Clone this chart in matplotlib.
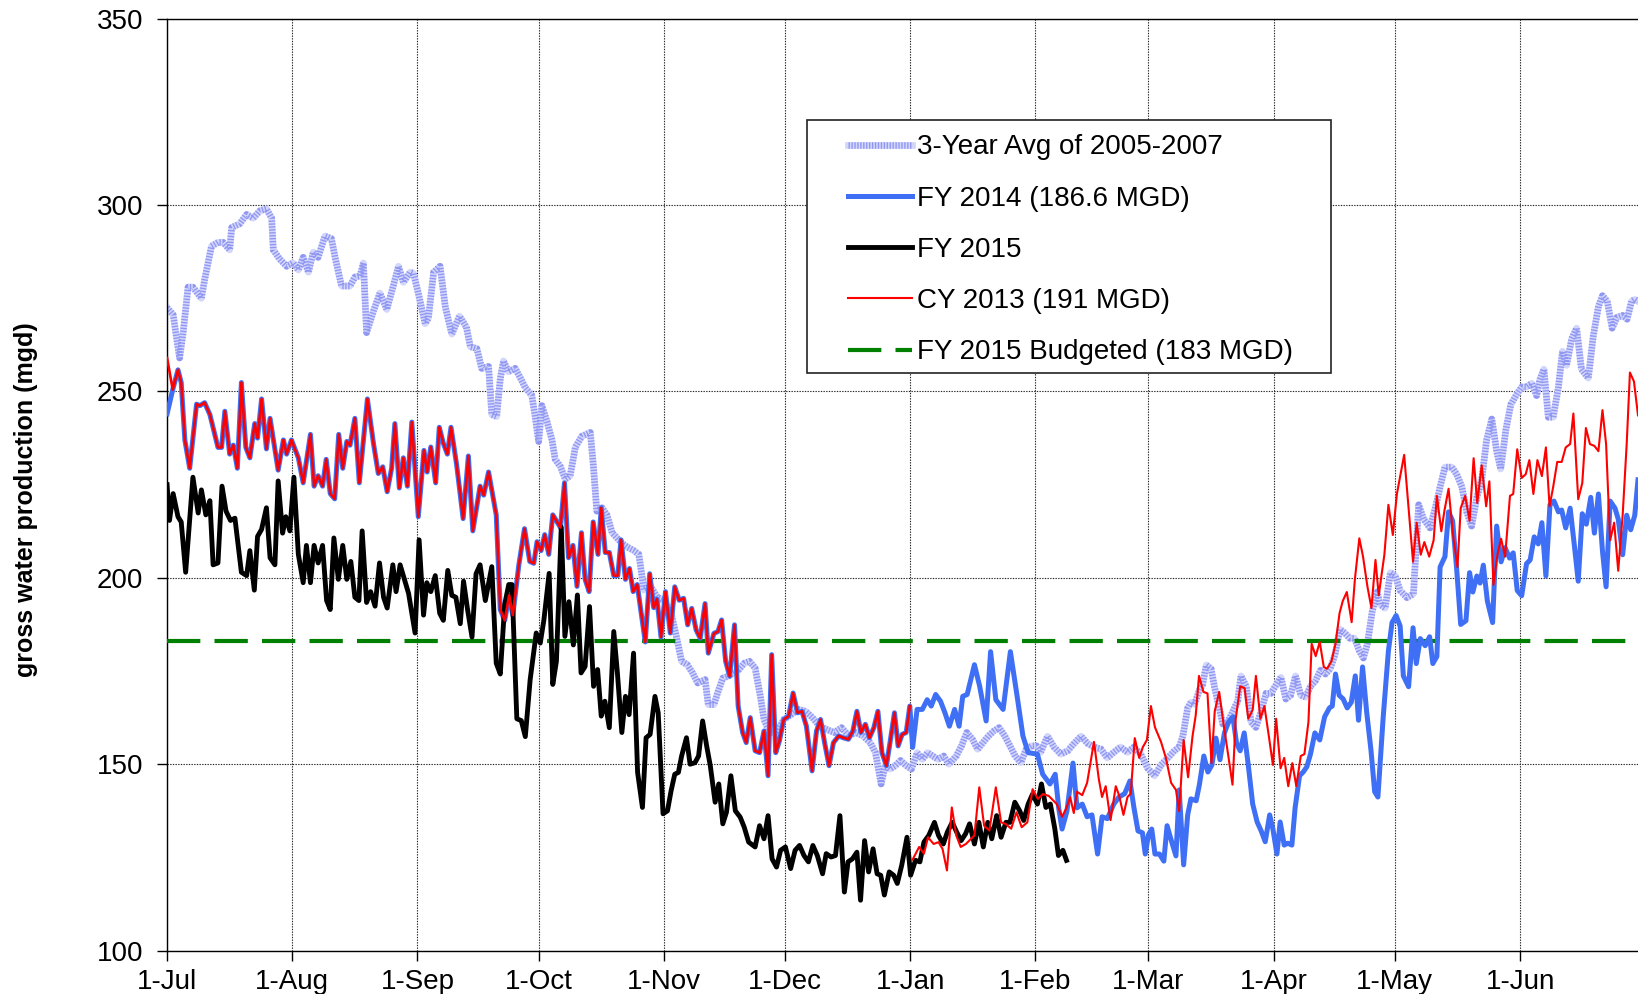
import matplotlib
matplotlib.use("Agg")
import matplotlib.pyplot as plt
from matplotlib.patches import Rectangle
from matplotlib.lines import Line2D

plt.rcParams['font.family'] = ['Liberation Sans', 'DejaVu Sans']

# ---- data: day offset from 1-Jul, daily production (mgd) ----
month_days = [0, 31, 62, 92, 123, 153, 184, 215, 243, 274, 304, 335]
month_labels = ['1-Jul', '1-Aug', '1-Sep', '1-Oct', '1-Nov', '1-Dec',
                '1-Jan', '1-Feb', '1-Mar', '1-Apr', '1-May', '1-Jun']

avg_days = [0, 1.5, 3.1, 4, 5.2, 6.4, 8.5, 9.3, 11, 12.6, 13.9, 15.5, 16, 18, 19.7, 21.3, 23, 24.6, 25.9, 26.3,
            27.9, 29.6, 31.2, 32.5, 33.7, 35, 36.2, 37.4, 39.1, 40.7, 41.6, 43.2, 45.3, 46.5, 47.8, 48.6, 49.4,
            51.1, 52.7, 54.4, 56, 57.3, 58.5, 60.2, 61, 62.2, 63.9, 64.7, 66, 67.6, 68.9, 70.5, 72.4, 74.1, 75.1,
            76.7, 77.9, 79.6, 80.4, 81.6, 82.5, 83.3, 84.5, 86.2, 87.4, 88.7, 90.3, 91.2, 92, 92.8, 94.1, 95.3,
            96.1, 97.4, 98.6, 99.8, 101.1, 102.7, 104.8, 105.6, 106.4, 107.7, 108.9, 110.2, 111.4, 112.7, 113.9,
            115.6, 116.8, 118.1, 119.7, 121.4, 123, 124.8, 126.1, 127.4, 128.8, 130.1, 131.4, 133.2, 134, 135.4,
            136.3, 137.6, 138.9, 140.3, 141.6, 142.9, 144.2, 145.6, 146.9, 147.8, 149.2, 150.9, 152.7, 154.5,
            156.3, 158.1, 159.8, 161.6, 163.4, 165.2, 167, 168.8, 170.5, 172.3, 174.1, 175.4, 176.8, 177.8, 179,
            180.3, 181.6, 183, 184.3, 185.7, 187, 188.3, 189.6, 190.9, 192.3, 193.6, 195.4, 196.7, 198, 199.4,
            200.7, 202, 203.4, 204.7, 206, 207.4, 208.7, 210, 211.4, 212.7, 214, 215.3, 216.3, 218, 219.6, 221.3,
            223, 224.6, 226.3, 227.9, 229.5, 231.2, 232.8, 234.4, 236.1, 237.8, 239.4, 241.1, 242.8, 244.5, 246.1,
            247.8, 249.4, 250.6, 251.5, 252.7, 253.5, 254.4, 255.6, 256.4, 257.3, 258.5, 259.3, 260.2, 261.4,
            262.6, 263.9, 265.1, 265.9, 267.2, 268.4, 269.6, 270.9, 272.1, 273.3, 274.6, 275.8, 277, 278.2, 279.4,
            280.7, 281.9, 283.1, 284.3, 285.6, 286.8, 288, 289.2, 290.4, 291.6, 292.8, 294, 295.2, 296.2, 297.2,
            298.4, 299.6, 300.4, 301.6, 302.9, 304.1, 305.3, 307, 308.6, 309.9, 311.1, 312.7, 314, 315.2, 316.4,
            318.1, 319.3, 320.6, 321.8, 323, 324.3, 325.5, 326.7, 328, 329.2, 330.2, 331.5, 332.7, 334.2, 335.4,
            336.6, 337.9, 339.1, 339.9, 340.9, 342, 343.2, 344.5, 345.5, 346.5, 347.8, 349, 350.2, 351.9, 353.1,
            354.4, 355.4, 356.6, 357.8, 359, 360.4, 361.5, 362.6, 363.4, 364.2]
avg_vals = [272.5, 270.6, 259, 266, 278, 278, 275, 280, 289, 290, 290, 288, 294, 295, 297.5, 296.5, 298.5, 299, 296.5, 288,
            285.5, 283.6, 284.5, 282.6, 286, 282, 287.4, 286, 291.7, 291, 286, 278.3, 278.3, 280.7, 281, 284.5, 265.8,
            271.6, 276.4, 272, 278.3, 283.6, 279.3, 282, 281.7, 276.4, 268.2, 269.7, 282, 283.6, 272.6, 265.4, 270.2, 267.3, 262,
            261.5, 256.2, 256.7, 243.8, 243.3, 253.4, 258.2, 255.3, 256.2, 253.8, 251, 249, 242.8, 236.6, 246.2, 241.8, 237,
            231.8, 229.8, 226.5, 227.4, 235.1, 238, 239, 229.4, 217.9, 218.8, 216.9, 212.1, 210.7, 209.2, 208.3,
            207.3, 206.3, 196.7, 197.7, 194.8, 193.9, 190.5, 184.3, 177.6, 176.7, 174.5, 171.8, 172.7, 166, 166,
            169.1, 173.1, 173.6, 174.5, 175.4, 177.1, 177.6, 175.8, 168.2, 162, 158.5, 158.5, 162, 163.3,
            164.7, 164.2, 162.5, 160.2, 159.3, 158.5, 159.8, 157.6, 158.5, 157.6, 155.8, 153.1, 144.7, 149.6, 148.7,
            149.6, 151, 149.6, 148.7, 153.1, 151.3, 153.1, 152.2, 151.3, 152.2, 150, 152.2, 154.9, 158.5, 156.7,
            154, 155.8, 157.6, 158.9, 159.8, 157.6, 154.9, 152.2, 150.4, 154, 154.9, 154.9, 153.2, 157.5, 154.6, 152.7,
            153.6, 155.6, 157.5, 155.6, 154.6, 154.1, 151.7, 153.2, 154.6, 153.2, 154.6, 152.7, 148.9, 146.9, 149.8,
            151.7, 153.6, 154.6, 157.5, 165.1, 166.6, 166.1, 169.9, 171.3, 176.6, 175.6, 170.9, 166.6, 160.8,
            161.3, 164.2, 167, 173.7, 170.9, 161.3, 159.9, 164.2, 169, 169, 171.3, 173.3, 167.5, 168.5, 173.7,
            168.5, 168, 170.9, 172.3, 175.2, 174.2, 175.6, 179.5, 186.2, 185.2, 183.8, 183.8, 180.4, 178.5, 182.3,
            191, 196.2, 192.8, 191.9, 201.4, 200.5, 196.6, 194.7, 195.7, 219.6, 215.8, 213.4, 218.7, 224.4, 229.7,
            229.7, 227.8, 224.4, 217.7, 213.9, 221.6, 226.3, 236.9, 242.6, 234, 229.2, 239.8, 246.5, 249.3, 251.2,
            251.2, 252.2, 248.9, 253.2, 256, 243.1, 243.1, 251.2, 260.8, 257, 264.2, 267, 256, 253.6, 264.7,
            272.8, 275.7, 274.2, 267, 269.9, 270.4, 269.4, 274.2, 274.7, 274.2]

# CY 2013, Jul-Dec part (identical to FY 2014 Jul-Dec)
cy13_h2_days = [0, 1.4, 2.7, 3.5, 4.4, 5.6, 7.3, 8.1, 9.3, 10.6, 12.6, 13.5, 14.3, 15.5, 16.4, 17.4, 18.4, 19.5, 20.5,
                21.7, 22.4, 23.4, 24.6, 25.5, 27.5, 28.8, 29.6, 30.8, 32.5, 33.7, 35.5, 36.4, 37.4, 38.5, 39.4, 40.4,
                41.5, 42.5, 43.5, 44.5, 45.3, 46.5, 47.6, 49.6, 51.1, 52.3, 53.4, 54.5, 55.6, 56.4, 57.5, 58.5, 59.5,
                60.6, 62.2, 63.6, 64.4, 65.3, 66.5, 67.4, 68.4, 69.4, 70.3, 71.7, 73.3, 74.6, 75.7, 77.5, 78.4, 79.6,
                81.5, 82.5, 83.6, 84.7, 85.6, 87.1, 88.5, 89.8, 90.8, 91.6, 92.6, 93.5, 94.5, 95.5, 97.4, 98.4, 99.4,
                100.5, 101.5, 102.6, 103.5, 104.5, 105.5, 106.7, 107.5, 108.5, 109.5, 110.6, 111.6, 112.4, 113.5,
                114.5, 115.4, 116.4, 118.4, 119.5, 120.5, 121.3, 122.3, 123.4, 124.6, 125.7, 126.8, 127.9, 128.9,
                129.9, 131, 132, 133.2, 134, 135.4, 136.4, 137.3, 138.3, 139.3, 140.5, 141.4, 142.5, 143.4, 144.4,
                145.6, 146.7, 147.8, 148.8, 149.7, 150.7, 151.6, 152.7, 153.9, 155, 156.1, 157.2, 158.3, 159.7,
                160.8, 161.8, 162.8, 163.9, 165, 166.3, 167.4, 168.7, 169.8, 170.8, 171.8, 172.9, 173.9, 175, 176,
                177, 178.1, 179, 180.1, 181, 182, 183, 183.9]
cy13_h2_vals = [259, 250.5, 255.8, 252.4, 237, 229.4, 246.6, 246.2, 247, 243.8, 235, 235, 244.7, 233.2, 235.6, 229.4, 252.4,
                235, 232.2, 241.4, 237.5, 248, 234.6, 242.8, 228.9, 237, 233.2, 237, 232.2, 225.5, 238.5, 224.6, 227.4,
                224.6, 231.8, 222.6, 221.2, 238.5, 229.4, 236.6, 235.6, 242.8, 225.5, 248, 236.1, 228, 229.8, 223.1,
                229.4, 241.4, 224.1, 232.2, 224.6, 241.8, 216.4, 234.2, 228.4, 235.1, 225.5, 240.4, 236.1, 233.2, 240.4,
                230.3, 215.9, 232.7, 212.6, 224.6, 222.2, 228.4, 216.9, 191.5, 188.6, 195.3, 190, 203.5, 213.2, 204.4,
                203.9, 209.7, 207.3, 211.6, 206.3, 216.9, 213.5, 225.5, 205.4, 208.7, 197.7, 212.1, 199.6, 196.3, 215,
                206.3, 218.8, 206.8, 206.8, 200.6, 200.6, 210.2, 199.6, 202.5, 196.3, 198.2, 182.8, 201.1, 192, 194.3,
                184.1, 196.3, 185.2, 197.6, 194, 194.5, 187.4, 191.8, 186, 183.8, 193.1, 179.8, 185.1, 185.6, 188.7,
                177.6, 173.6, 187.4, 165.6, 158.5, 155.8, 162.5, 153.6, 153.1, 158.9, 146.9, 179.4, 153.1, 156.2, 162,
                162.9, 169.1, 163.8, 164.2, 160.2, 148.2, 158.9, 162, 155.8, 149.6, 155.8, 157.6, 157.1, 156.7, 158.9,
                164.2, 158.5, 160.7, 157.1, 159.8, 164.2, 153.1, 149.6, 155.8, 163.8, 154.9, 158, 158.5, 165.6]

# CY 2013, Jan-Jun part (plotted at Jan-Jun positions)
cy13_h1_days = [184.6, 186.2, 187.4, 188.4, 189.8, 191, 192, 193.1, 194.3, 195.4, 196.5, 197.8, 199.9, 201.1, 202.3,
                203.6, 205.2, 206.5, 207.6, 209, 210.3, 211.6, 213, 214.3, 215.6, 216.9, 218.3, 220.3, 221.6, 222.7,
                223.6, 224.5, 225.3, 226.6, 227.8, 229.5, 230.7, 231.5, 232.4, 233.6, 234.9, 235.7, 236.8, 237.8,
                238.6, 239.6, 240.7, 241.6, 242.6, 243.6, 244.6, 246.1, 247.3, 248.6, 249.8, 250.6, 251.7, 252.8,
                253.9, 254.7, 255.5, 256.6, 257.6, 258.6, 259.4, 260.5, 261.7, 262.7, 263.8, 264.6, 265.7, 266.8,
                267.7, 268.8, 269.6, 270.7, 271.7, 272.8, 273.8, 274.6, 275.7, 276.6, 277.6, 278.6, 279.6, 280.7,
                281.6, 282.6, 283.4, 284.4, 285.4, 286.4, 287.2, 288.3, 289.3, 290.3, 291.1, 292.1, 293.3, 294.1,
                295.2, 296.1, 297.2, 298.2, 299.2, 300, 301.4, 302.4, 303.5, 304.5, 306.3, 307.4, 308.5, 309.4,
                310.4, 311.3, 312.5, 313.6, 314.4, 315.5, 316.3, 317.3, 318.4, 319.5, 320.3, 321.4, 322.5, 323.5,
                324.4, 325.5, 326.6, 327.4, 328.4, 329.4, 330.3, 331.3, 332.5, 333.3, 334.3, 335.4, 336.4, 337.3,
                338.3, 339.3, 340.4, 341.4, 342.3, 343.2, 344.2, 345.3, 346.3, 347.4, 348.2, 349.4, 350.4, 351.3,
                352.3, 353.4, 354.4, 355.4, 356.3, 357.3, 358.3, 359.3, 360.4, 361.4, 362.2, 363.2, 364.2]
cy13_h1_vals = [124.4, 127.8, 126, 130.4, 128.6, 129.1, 127.3, 121.5, 138.4, 130.9, 127.8, 128.6, 130.9, 143.8, 133.5,
                132.2, 143.8, 134.4, 134, 132.7, 137.1, 133.1, 134.4, 143.3, 140.7, 142, 141.5, 139.3, 135.9, 138.3,
                141.2, 136.9, 142.6, 141.7, 145, 156, 146, 141.2, 144.1, 135, 144.1, 141.7, 136.4, 141.2,
                142.1, 157, 151.7, 154.6, 156.5, 165.6, 159.9, 156, 151.7, 145, 143.1, 137.4, 156.5, 146.5,
                157.5, 163.2, 173.7, 169.4, 169, 150.3, 164.2, 169.4, 159.9, 152.7, 144.5, 162.2, 170.9, 170.4,
                162.2, 164.6, 173.7, 162.2, 165.6, 157.5, 149.8, 162.2, 148.9, 151.7, 144.1, 150.3, 144.1, 152.2,
                152.7, 161.3, 182.3, 179, 182.8, 176.1, 175.6, 177.6, 182.3, 190.5, 193.8, 196.2, 188.1, 199.6,
                210.6, 205.8, 197.7, 191.9, 204.8, 195.3, 206.2, 219.6, 211.5, 222.5, 233, 218.7, 204.3, 214.8,
                206.2, 209.6, 205.7, 210.1, 222, 212.5, 218.2, 223.9, 211.5, 202.9, 218.7, 222, 215.3, 232.1,
                220.1, 230.2, 219.2, 225.9, 198.1, 206.2, 210.5, 205.7, 222, 222.5, 234.5, 226.8, 227.8, 231.6,
                222.5, 231.6, 227.3, 235, 219.2, 224.4, 231.1, 231.1, 235, 235.9, 244.1, 221.1, 225.4, 240.2,
                235.9, 235.4, 234, 245, 235.9, 210.1, 214.8, 201.9, 216.8, 235.9, 255.1, 252.7, 243.6]

# FY 2014: first day, then Jul-Dec = CY 2013 Jul-Dec, then Jan-Jun 2014
fy14_first_val = 244
fy14_h1_days = [184.6, 185.7, 187, 188.2, 189.2, 190.3, 191.5, 192.6, 193.7, 195, 196.1, 197, 198.1, 199.9, 201.2,
                202.8, 203.9, 205.2, 207, 208.8, 210.6, 211.9, 213.2, 215.5, 216.8, 218.6, 219.9, 220.8, 221.6,
                222.8, 224.3, 225.3, 226.6, 227.8, 229, 230.4, 231.5, 232.8, 234.4, 235.7, 237.1, 238.4, 239.4,
                240.4, 241.5, 242.2, 243, 243.8, 244.6, 245.7, 246.8, 247.6, 248.6, 249.8, 250.6, 251.7, 252.7,
                253.5, 254.8, 255.6, 256.7, 257.7, 258.7, 259.7, 260.7, 261.8, 262.8, 263.9, 264.8, 265.7, 266.7,
                267.7, 268.8, 269.9, 270.9, 271.9, 273, 273.8, 274.8, 275.6, 276.6, 277.5, 278.5, 279.3, 280.4,
                281.3, 282.2, 283.1, 284.2, 285.4, 286.6, 287.8, 288.5, 289.3, 290.2, 291.2, 292.2, 293.2, 294.2,
                295, 296, 297, 298.1, 299, 299.8, 301.1, 302.4, 303.3, 304.3, 305.3, 306.1, 307.4, 308.5, 309.3,
                310.3, 311.5, 312.6, 313.4, 314.4, 315.2, 316.4, 317.3, 318.3, 319.3, 320.3, 321.6, 322.5, 323.3,
                324.3, 325.1, 325.9, 326.9, 328.2, 329.2, 330.3, 331.3, 332.4, 333.3, 334.3, 335.4, 336.6, 337.5,
                338.5, 339.5, 340.4, 341.4, 342.4, 343.4, 344.5, 345.3, 346.3, 347.4, 348.4, 349.4, 350.4, 351.4,
                352.5, 353.4, 354.4, 355.4, 356.3, 357.3, 358.5, 359.3, 360.4, 361.4, 362.4, 363.4, 364.2]
fy14_h1_vals = [154.5, 164.7, 164.7, 167.3, 165.6, 168.7, 166.9, 163.8, 160.2, 164.7, 160.2, 168.2, 168.7, 176.7, 170.9,
                161.6, 180.2, 167.3, 164.7, 180.2, 167.3, 157.6, 153.1, 152.7, 147.3, 144.7, 147.3, 138, 132.6,
                137.4, 150.3, 138.3, 139.3, 135.9, 136.4, 125.9, 135.9, 135.4, 139.3, 141.2, 142.1, 145.5, 138.3,
                132.1, 131.6, 125.9, 131.1, 132.6, 125.9, 125.9, 124, 133.5, 129.7, 125.4, 143.1, 123, 136.4,
                140.7, 140.2, 144.5, 152.2, 147.9, 149.8, 157, 151.2, 158.4, 161.3, 162.7, 155.6, 153.6, 158.4,
                149.8, 139.3, 134.5, 132.1, 129.2, 136.4, 132.6, 125.9, 134.5, 128.3, 128.8, 128.3, 138.3, 146.9,
                147.9, 149.3, 152.7, 158.4, 156.5, 162.7, 165.1, 165.6, 174.2, 168.5, 167.5, 165.1, 166.6, 173.7,
                161.8, 176.1, 164.2, 153.6, 142.6, 141.2, 162.5, 180.4, 188, 189.9, 187.1, 173.7, 170.8, 186.6, 177,
                183.7, 181.8, 184.2, 177, 178.9, 202.9, 205.7, 217.7, 215.3, 202.4, 187.5, 188.5, 201.4, 196.2,
                200.5, 198.6, 203.4, 193.8, 188, 213.9, 204.3, 208.1, 205.3, 206.7, 196.6, 195.2, 203.8, 204.8,
                211, 209.1, 214.8, 200.5, 219.6, 220.6, 217.7, 218.2, 213.4, 218.7, 209.1, 199.1, 217.2, 214.4,
                221.6, 212, 222.5, 207.2, 197.6, 220.6, 218.7, 215.8, 206.2, 216.8, 212.9, 216.8, 226.3]

# FY 2015 (to date)
fy15_days = [0, 0.6, 1.5, 2.7, 3.5, 4.6, 6.4, 7.7, 8.5, 9.6, 10.6, 11.4, 12.6, 13.6, 14.6, 15.7, 16.8, 18.4, 19.7,
             20.5, 21.6, 22.4, 23.4, 24.6, 25.5, 26.7, 27.5, 28.6, 29.4, 30.4, 31.4, 32.5, 33.7, 34.5, 35.5, 36.4,
             37.4, 38.5, 39.5, 40.4, 41.3, 42.4, 43.5, 44.5, 45.5, 46.5, 47.5, 48.3, 49.4, 50.4, 51.5, 52.6, 53.6,
             54.5, 55.9, 56.7, 57.7, 59.8, 61.4, 62.4, 63.5, 64.3, 65.3, 66.4, 67.5, 68.4, 69.5, 70.5, 71.5, 72.6,
             73.4, 74.4, 75.5, 76.5, 77.5, 78.8, 80.4, 81.5, 82.5, 83.6, 84.6, 85.4, 86.6, 87.7, 88.7, 89.9, 91.4,
             92.4, 93.3, 94.6, 95.5, 96.4, 97.6, 98.5, 99.5, 100.6, 101.6, 102.5, 103.5, 104.6, 105.6, 106.6,
             107.5, 108.4, 109.5, 110.6, 111.5, 112.6, 113.5, 114.4, 115.5, 116.5, 117.7, 118.6, 119.6, 120.8,
             121.6, 122.8, 123.9, 124.8, 125.7, 126.6, 127.4, 128.6, 129.5, 130.7, 131.6, 132.6, 133.6, 134.5,
             135.7, 136.6, 137.6, 138.5, 139.6, 140.7, 141.9, 142.9, 144, 145.6, 146.7, 147.8, 148.8, 149.8,
             150.9, 151.9, 153.1, 154.4, 155.5, 156.6, 157.7, 158.8, 159.9, 161, 162.3, 163.2, 164.4, 165.5,
             166.6, 167.7, 168.6, 169.7, 170.8, 171.7, 172.7, 173.7, 174.8, 175.8, 176.7, 177.6, 178.8, 179.9,
             180.8, 181.9, 183.2, 184.1, 185.3, 186.4, 187.4, 188.6, 190, 191, 192.2, 193.2, 194.4, 195.5, 196.6,
             197.7, 198.7, 199.9, 201, 202.1, 203.2, 204.2, 205.4, 206.5, 207.7, 208.7, 209.9, 211.1, 212.1,
             213.2, 214.3, 215.5, 216.5, 217.6, 218.7, 219.8, 220.7, 221.8, 222.7]
fy15_vals = [225, 215.4, 222.6, 216.4, 215, 201.5, 227, 217.4, 223.6, 216.9, 220.7, 203.5, 204, 224.6, 217.9, 215.4, 216,
             201.5, 200.6, 207.3, 196.7, 211.1, 213, 218.8, 205.4, 203.5, 226, 212, 216.4, 212.6, 227, 206.3, 198.7,
             208.7, 198.7, 208.7, 204, 208.7, 193.9, 191.5, 210.7, 199.6, 208.7, 199.6, 204.4, 194.8, 193.9, 212.6,
             193.4, 196.3, 192.4, 204, 194.8, 191.9, 203.5, 196.3, 203.5, 195.8, 185.2, 210.2, 190, 198.7, 196.3,
             200.6, 190.5, 188.6, 202, 195.3, 194.8, 187.7, 199.1, 191.5, 184.1, 201.1, 203.5, 193.9, 203, 177.1,
             174.2, 192.9, 198.2, 198.2, 162.2, 161.7, 157.4, 172.7, 185.2, 182.5, 188.7, 201.2, 171.4, 177.6,
             213.6, 184.3, 193.6, 182, 195.4, 174.5, 176.2, 192.3, 170.9, 175.4, 162.9, 166.9, 159.8, 185.6, 174.5,
             158.5, 168.2, 163.3, 179.8, 147.8, 138.4, 157.1, 158, 168.2, 163.8, 136.7, 137.5, 142.9, 147.3, 147.8,
             152.2, 157.1, 150, 150.4, 152.2, 161.6, 154.9, 149.6, 139.8, 144.7, 134, 137.1, 146.9, 137.5, 135.8,
             133.1, 129.1, 127.8, 133.5, 130, 136.2, 124.6, 122.4, 126.9, 127.8, 122, 126.9, 128.2, 125.5, 123.8,
             128.2, 125.5, 120.6, 126, 125.1, 125.5, 136.2, 115.7, 123.8, 124.6, 126.4, 113.5, 129.5, 121.1, 127.3,
             120.6, 120.2, 114.9, 121.1, 120.2, 118, 122.9, 130.4, 120.2, 124.2, 123.8, 129.1, 130.9, 134.4, 130.9,
             128.6, 131.8, 134.4, 131.8, 129.5, 131.3, 134, 128.6, 134.4, 127.8, 134.4, 130, 136.2, 130.4, 134.4,
             134.4, 139.8, 137.5, 134.9, 139.3, 142, 139.3, 144.7, 138.4, 139.3, 132.7, 125.5, 126.9, 124.2]

budget_value = 183

labels = ['3-Year Avg of 2005-2007', 'FY 2014 (186.6 MGD)', 'FY 2015',
          'CY 2013 (191 MGD)', 'FY 2015 Budgeted (183 MGD)']

AVG_BASE = '#d3d6fb'
AVG_STRIPE = '#9097f2'

# ---- figure ----
fig = plt.figure(figsize=(16.38, 9.94), dpi=100)
ax = fig.add_axes([0.102, 0.0437, 0.898, 0.9374])

fy14_days = [0] + cy13_h2_days[1:] + fy14_h1_days
fy14_vals = [fy14_first_val] + cy13_h2_vals[1:] + fy14_h1_vals

# stippled-looking band for the 3-year average
h_avg, = ax.plot(avg_days, avg_vals, color=AVG_BASE, lw=4.8, solid_joinstyle='round', zorder=2)
ax.plot(avg_days, avg_vals, color=AVG_STRIPE, lw=4.8, dashes=(0.2, 0.24),
        dash_capstyle='butt', dash_joinstyle='round', zorder=2.1)
h_bud = ax.axhline(budget_value, color='#008000', lw=3.0, dashes=(8, 3.4), zorder=3)
h_fy14, = ax.plot(fy14_days, fy14_vals, color='#3e6ff5', lw=3.6, solid_joinstyle='round', zorder=4)
h_fy15, = ax.plot(fy15_days, fy15_vals, color='black', lw=3.5, solid_joinstyle='round', zorder=5)
ax.plot(cy13_h2_days, cy13_h2_vals, color='#ff0000', lw=1.9, zorder=6)
h_cy13, = ax.plot(cy13_h1_days, cy13_h1_vals, color='#ff0000', lw=1.5, zorder=6)

ax.set_xlim(0, 364.2)
ax.set_ylim(100, 350)
ax.set_yticks([100, 150, 200, 250, 300, 350])
ax.set_xticks(month_days)
ax.set_xticklabels(month_labels)
ax.tick_params(axis='both', labelsize=20, direction='out', length=7, width=1, color='black')
ax.tick_params(axis='y', pad=10)
ax.tick_params(axis='x', pad=6)
ax.grid(True, color='#222222', linestyle=(0, (1.2, 1.2)), linewidth=0.8)
ax.set_axisbelow(True)
for s in ['left', 'bottom', 'top']:
    ax.spines[s].set_color('black')
    ax.spines[s].set_linewidth(1.0)
ax.spines['right'].set_visible(False)

ax.set_ylabel('gross water production (mgd)', fontsize=18, fontweight='bold')
ax.yaxis.set_label_coords(-0.088, 0.484)

# legend box
ax.add_patch(Rectangle((0.435, 0.620), 0.356, 0.271, transform=ax.transAxes,
                       facecolor='white', edgecolor='#222222', lw=1.2, zorder=8))

# legend proxy for the striped band
avg_proxy_base = Line2D([], [], color=AVG_BASE, lw=4.8)
avg_proxy_stripe = Line2D([], [], color=AVG_STRIPE, lw=4.8, dashes=(0.2, 0.24), dash_capstyle='butt')
leg = ax.legend([(avg_proxy_base, avg_proxy_stripe), h_fy14, h_fy15, h_cy13, h_bud], labels,
                loc='upper left', bbox_to_anchor=(0.463, 0.876), frameon=False, fontsize=20,
                borderpad=0, borderaxespad=0, handlelength=2.3, handletextpad=0.18,
                labelspacing=0.91)
leg.set_zorder(9)

fig.savefig('out.png', dpi=100)
